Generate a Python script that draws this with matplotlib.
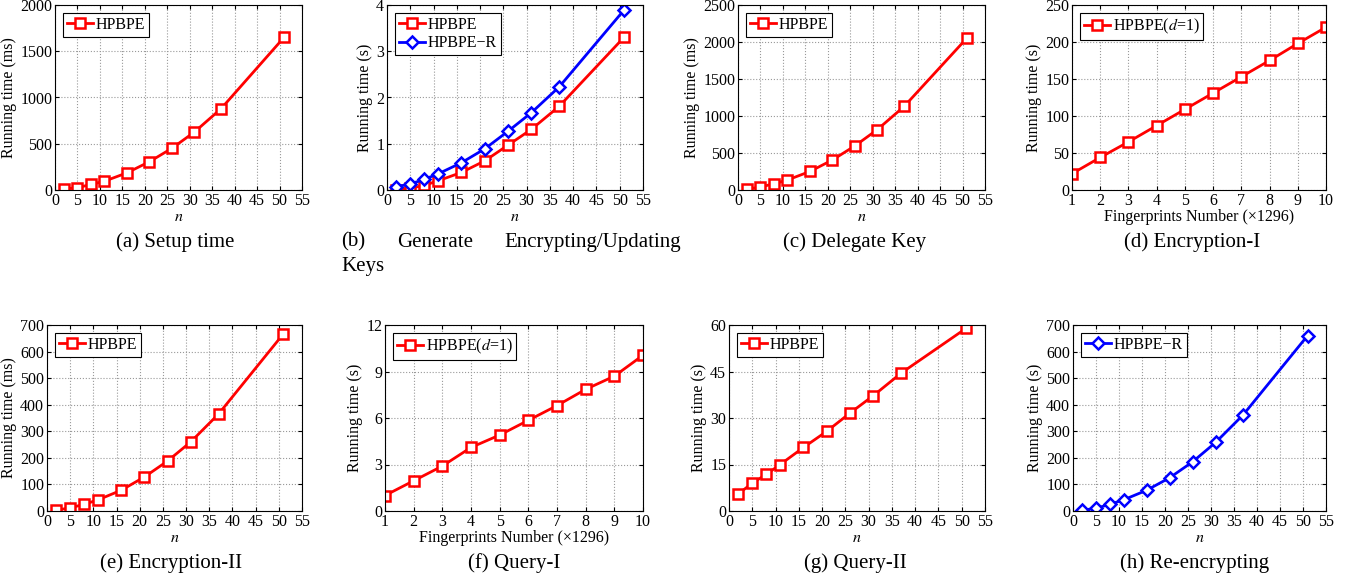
import numpy as np
import matplotlib.pyplot as plt

plt.rcParams['font.family'] = ['Liberation Serif', 'DejaVu Serif']
plt.rcParams['mathtext.fontset'] = 'stix'

# data
n = [2, 5, 8, 11, 16, 21, 26, 31, 37, 51]
fp = [1, 2, 3, 4, 5, 6, 7, 8, 9, 10]

setup_ms = [10, 25, 60, 95, 185, 305, 450, 625, 880, 1650]
genkey_s = [0.01, 0.04, 0.10, 0.20, 0.38, 0.63, 0.97, 1.31, 1.81, 3.31]
genkey_r_s = [0.07, 0.13, 0.23, 0.35, 0.59, 0.89, 1.27, 1.67, 2.23, 3.90]
delegate_ms = [10, 40, 85, 135, 250, 405, 595, 815, 1130, 2055]
enc1_s = [22, 44, 65, 87, 109, 131, 153, 175, 198, 220]
enc2_ms = [3, 12, 25, 42, 78, 128, 188, 260, 365, 667]
query1_s = [1.0, 1.95, 2.9, 4.1, 4.9, 5.85, 6.8, 7.85, 8.7, 10.05]
query2_s = [5.5, 9.0, 11.8, 15.0, 20.5, 25.7, 31.6, 37.2, 44.5, 59.0]
reenc_s = [3, 10, 25, 42, 78, 125, 185, 258, 362, 660]

W, H = 1349, 582
fig = plt.figure(figsize=(W / 100, H / 100), dpi=100)


def make_ax(l, t, r, b):
    return fig.add_axes([l / W, 1 - b / H, (r - l) / W, (b - t) / H])


def style(ax, xlim, xticks, ylim, yticks, ylabel, xlabel):
    ax.set_xlim(xlim)
    ax.set_xticks(xticks)
    ax.set_ylim(ylim)
    ax.set_yticks(yticks)
    ax.grid(True, linestyle=':', color='#999999', linewidth=0.8)
    ax.tick_params(direction='in', top=True, right=True, labelsize=11.5,
                   length=3, pad=2)
    ax.set_ylabel(ylabel, fontsize=11.5, labelpad=2)
    ax.set_xlabel(xlabel, fontsize=11.5, labelpad=0)
    for s in ax.spines.values():
        s.set_linewidth(0.8)


def series(ax, x, y, label, color, marker):
    ax.plot(x, y, color=color, marker=marker,
            markersize=6.5 if marker == 's' else 6,
            markerfacecolor='white', markeredgewidth=1.8, linewidth=2,
            label=label)


def legend(ax):
    leg = ax.legend(loc='upper left', fontsize=11.5, fancybox=False,
                    framealpha=1, edgecolor='black', handlelength=1.6,
                    handletextpad=0.2, borderpad=0.25, labelspacing=0.15,
                    borderaxespad=0.5)
    leg.get_frame().set_linewidth(0.8)


nx = list(range(0, 56, 5))
nl = (0, 55)
xn = '$n$'
xf = 'Fingerprints Number (\u00d71296)'

ax = make_ax(55, 5, 302, 190)
series(ax, n, setup_ms, 'HPBPE', 'red', 's')
style(ax, nl, nx, (0, 2000), range(0, 2001, 500), 'Running time (ms)', xn)
legend(ax)

ax = make_ax(387, 5, 643, 190)
series(ax, n, genkey_s, 'HPBPE', 'red', 's')
series(ax, n, genkey_r_s, 'HPBPE\u2212R', 'blue', 'D')
style(ax, nl, nx, (0, 4), range(0, 5), 'Running time (s)', xn)
legend(ax)

ax = make_ax(738, 5, 985, 190)
series(ax, n, delegate_ms, 'HPBPE', 'red', 's')
style(ax, nl, nx, (0, 2500), range(0, 2501, 500), 'Running time (ms)', xn)
legend(ax)

ax = make_ax(1072, 5, 1326, 190)
series(ax, fp, enc1_s, 'HPBPE($d$=1)', 'red', 's')
style(ax, (1, 10), fp, (0, 250), range(0, 251, 50), 'Running time (s)', xf)
legend(ax)

ax = make_ax(47, 325, 302, 511)
series(ax, n, enc2_ms, 'HPBPE', 'red', 's')
style(ax, nl, nx, (0, 700), range(0, 701, 100), 'Running time (ms)', xn)
legend(ax)

ax = make_ax(385, 325, 643, 511)
series(ax, fp, query1_s, 'HPBPE($d$=1)', 'red', 's')
style(ax, (1, 10), fp, (0, 12), range(0, 13, 3), 'Running time (s)', xf)
legend(ax)

ax = make_ax(729, 325, 985, 511)
series(ax, n, query2_s, 'HPBPE', 'red', 's')
style(ax, nl, nx, (0, 60), range(0, 61, 15), 'Running time (s)', xn)
legend(ax)

ax = make_ax(1073, 325, 1326, 511)
series(ax, n, reenc_s, 'HPBPE\u2212R', 'blue', 'D')
style(ax, nl, nx, (0, 700), range(0, 701, 100), 'Running time (s)', xn)
legend(ax)

# captions
cap = dict(fontsize=15, ha='center', va='center')
fig.text(175 / W, 1 - 242 / H, '(a) Setup time', **cap)
fig.text(341 / W, 1 - 242 / H, '(b)', fontsize=15, ha='left', va='center')
fig.text(435 / W, 1 - 242 / H, 'Generate', fontsize=15, ha='center', va='center')
fig.text(681 / W, 1 - 242 / H, 'Encrypting/Updating', fontsize=15, ha='right', va='center')
fig.text(341 / W, 1 - 267 / H, 'Keys', fontsize=15, ha='left', va='center')
fig.text(855 / W, 1 - 242 / H, '(c) Delegate Key', **cap)
fig.text(1192 / W, 1 - 242 / H, '(d) Encryption-I', **cap)
fig.text(171 / W, 1 - 563 / H, '(e) Encryption-II', **cap)
fig.text(514 / W, 1 - 563 / H, '(f) Query-I', **cap)
fig.text(855 / W, 1 - 563 / H, '(g) Query-II', **cap)
fig.text(1195 / W, 1 - 563 / H, '(h) Re-encrypting', **cap)

fig.savefig('out.png', dpi=100)
